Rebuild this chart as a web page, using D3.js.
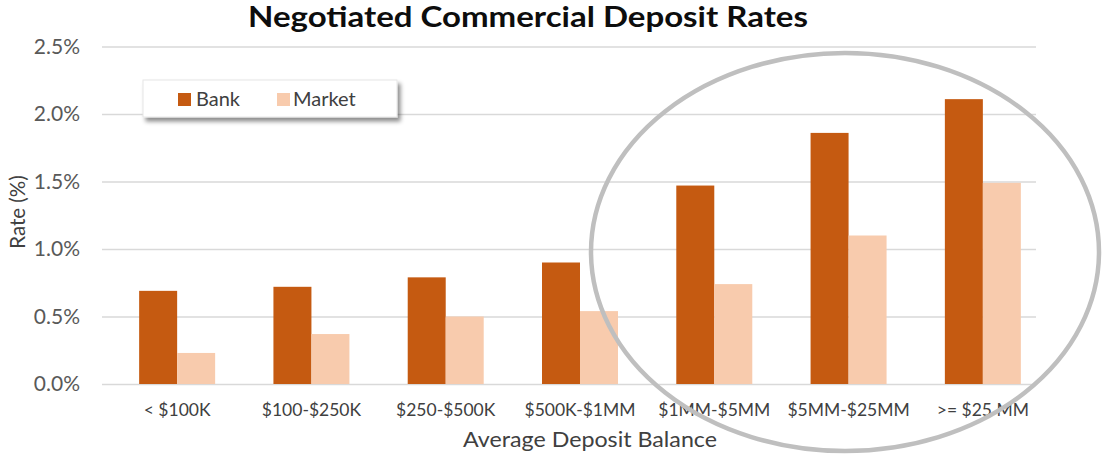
<!DOCTYPE html>
<html>
<head>
<meta charset="utf-8">
<script src="https://cdn.jsdelivr.net/npm/d3@7"></script>
<style>
  html, body { margin: 0; padding: 0; background: #ffffff; }
  svg { display: block; font-family: Lato, "Open Sans", sans-serif; }
</style>
</head>
<body>
<svg id="chart" width="1120" height="454"></svg>
<script>
// Deposit balance tiers and negotiated rates (%)
const categories = ["< $100K", "$100-$250K", "$250-$500K", "$500K-$1MM", "$1MM-$5MM", "$5MM-$25MM", ">= $25 MM"];
const seriesNames = ["Bank", "Market"];
const bankRates = [0.69, 0.72, 0.79, 0.90, 1.47, 1.86, 2.11];
const marketRates = [0.23, 0.37, 0.50, 0.54, 0.74, 1.10, 1.49];
const yTicks = [0, 0.5, 1.0, 1.5, 2.0, 2.5];
const colors = { Bank: "#C55A11", Market: "#F8CBAD" };

const rows = categories.map((c, i) => ({ cat: c, Bank: bankRates[i], Market: marketRates[i] }));

const svg = d3.select("#chart");
const plot = { left: 110, right: 1050, top: 46.5, bottom: 384 };

const x0 = d3.scaleBand().domain(categories).range([plot.left, plot.right]).padding(0);
const x1 = d3.scaleBand().domain(seriesNames).range([0, x0.bandwidth()])
  .paddingInner(0).paddingOuter(0.767);
const y = d3.scaleLinear().domain([0, 2.5]).range([plot.bottom, plot.top]);

// drop shadow for the legend box
const defs = svg.append("defs");
const f = defs.append("filter").attr("id", "shadow")
  .attr("x", "-10%").attr("y", "-30%").attr("width", "130%").attr("height", "190%");
f.append("feDropShadow").attr("dx", 3).attr("dy", 4).attr("stdDeviation", 2.2)
  .attr("flood-color", "#000").attr("flood-opacity", 0.45);

// gridlines + y labels
const yAxis = d3.axisLeft(y).tickValues(yTicks)
  .tickFormat(d => d3.format(".1f")(d) + "%")
  .tickSize(-(1036 - 102)).tickPadding(22);
const gy = svg.append("g").attr("transform", `translate(102,0)`).call(yAxis);
gy.select(".domain").remove();
gy.selectAll(".tick line").attr("stroke", "#d9d9d9").attr("stroke-width", 1.3);
gy.selectAll(".tick text").attr("fill", "#595959").attr("font-size", 21)
  .attr("font-family", "Lato, sans-serif");

// bars
const groups = svg.append("g").selectAll("g").data(rows).join("g")
  .attr("transform", d => `translate(${x0(d.cat)},0)`);
groups.selectAll("rect")
  .data(d => seriesNames.map(k => ({ key: k, value: d[k] })))
  .join("rect")
  .attr("x", d => x1(d.key))
  .attr("width", x1.bandwidth())
  .attr("y", d => y(d.value))
  .attr("height", d => y(0) - y(d.value))
  .attr("fill", d => colors[d.key]);

// x axis labels
const xAxis = d3.axisBottom(x0).tickSize(0).tickPadding(20);
const gx = svg.append("g").attr("transform", `translate(0,${plot.bottom})`).call(xAxis);
gx.select(".domain").remove();
gx.selectAll(".tick text").attr("fill", "#404040").attr("font-size", 17.5)
  .attr("font-family", "Lato, sans-serif");

// titles
svg.append("text").attr("x", 528).attr("y", 27).attr("text-anchor", "middle")
  .attr("font-size", 28).attr("font-weight", 700).attr("fill", "#0d0d0d")
  .attr("textLength", 560).attr("lengthAdjust", "spacingAndGlyphs")
  .text("Negotiated Commercial Deposit Rates");

svg.append("text").attr("x", 590).attr("y", 447).attr("text-anchor", "middle")
  .attr("font-size", 22).attr("fill", "#404040")
  .attr("textLength", 254).attr("lengthAdjust", "spacingAndGlyphs")
  .text("Average Deposit Balance");

svg.append("text").attr("transform", "translate(25,212) rotate(-90)")
  .attr("text-anchor", "middle").attr("font-size", 20.5).attr("fill", "#404040")
  .text("Rate (%)");

// legend
const lg = svg.append("g");
lg.append("rect").attr("x", 143).attr("y", 80).attr("width", 254).attr("height", 37)
  .attr("fill", "#fff").attr("stroke", "#e6e6e6").attr("filter", "url(#shadow)");
const items = [{ key: "Bank", sx: 178, tx: 196 }, { key: "Market", sx: 277, tx: 293 }];
items.forEach(it => {
  lg.append("rect").attr("x", it.sx).attr("y", 93).attr("width", 13).attr("height", 13)
    .attr("fill", colors[it.key]);
  lg.append("text").attr("x", it.tx).attr("y", 106).attr("font-size", 20)
    .attr("fill", "#404040").text(it.key);
});

// highlight ring around the larger balance tiers
svg.append("ellipse").attr("cx", 845).attr("cy", 252).attr("rx", 254).attr("ry", 199)
  .attr("fill", "none").attr("stroke", "#bfbfbf").attr("stroke-width", 4.5);
</script>
</body>
</html>
